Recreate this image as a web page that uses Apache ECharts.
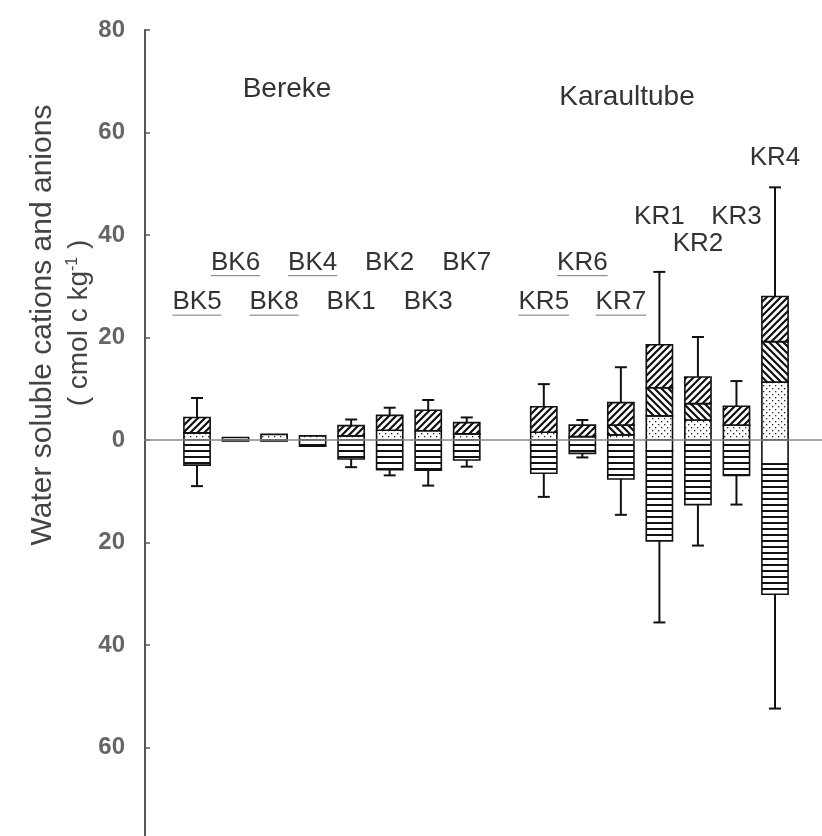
<!DOCTYPE html>
<html>
<head>
<meta charset="utf-8">
<script src="https://cdn.jsdelivr.net/npm/echarts@6/dist/echarts.min.js"></script>
<style>
  html, body { margin: 0; padding: 0; background: #fff; }
  #chart { width: 822px; height: 836px; }
</style>
</head>
<body>
<div id="chart"></div>
<script>
// sample slots along x ('' is the gap between the two sites)
const samples = ['BK5', 'BK6', 'BK8', 'BK4', 'BK1', 'BK2', 'BK3', 'BK7', '',
                 'KR5', 'KR6', 'KR7', 'KR1', 'KR2', 'KR3', 'KR4'];
// cations, stacked upward from 0 (cmol c kg-1)
const dotted    = [1.4, 0.5, 1.1, 0.8, 0.8, 1.9, 1.8, 1.2, null, 1.5, 0.65, 1.0, 4.7, 3.9, 2.9, 11.3];
const backHatch = [0, 0, 0, 0, 0, 0, 0, 0, null, 0, 0, 1.9, 5.5, 3.2, 0, 7.9];
const fwdHatch  = [3.0, 0, 0, 0, 2.0, 2.9, 4.0, 2.2, null, 5.0, 2.25, 4.4, 8.4, 5.2, 3.7, 8.8];
// anions, stacked downward from 0
const blank     = [0, 0, 0, 0, 0, 0, 0, 0, null, 0, 0, 0, 2.1, 0, 0, 4.7];
const striped   = [4.9, 0.2, 0.2, 1.2, 3.7, 5.8, 5.9, 3.9, null, 6.5, 2.6, 7.6, 17.6, 12.6, 6.9, 25.4];
// whisker ends
const whiskerTop    = [8.2, 0.5, 1.1, 0.8, 4.0, 6.3, 7.8, 4.4, null, 10.9, 3.9, 14.2, 32.8, 20.1, 11.5, 49.3];
const whiskerBottom = [-9.0, -0.2, -0.2, -1.2, -5.3, -6.9, -8.9, -5.2, null, -11.1, -3.4, -14.6, -35.6, -20.6, -12.6, -52.4];
// sample name labels: height on the y scale, underlined or not
const labelY     = [26.9, 34.6, 26.9, 34.6, 26.9, 34.6, 26.9, 34.6, null, 26.9, 34.6, 26.9, 43.5, 38.2, 43.5, 55.0];
const underlined = [1, 1, 1, 1, 0, 0, 0, 0, null, 1, 1, 1, 0, 0, 0, 0];
const sites = ['Bereke', 'Karaultube'];

const FONT = '"Liberation Sans", Arial, sans-serif';

function makePattern(w, h, draw) {
  const c = document.createElement('canvas');
  c.width = w; c.height = h;
  const ctx = c.getContext('2d');
  ctx.fillStyle = '#fff';
  ctx.fillRect(0, 0, w, h);
  ctx.strokeStyle = '#111';
  ctx.fillStyle = '#222';
  draw(ctx, w, h);
  return { image: c, repeat: 'repeat' };
}
const fwdPat = makePattern(7, 7, (ctx, w, h) => {
  ctx.lineWidth = 2.2;
  ctx.beginPath();
  ctx.moveTo(-1, h + 1); ctx.lineTo(w + 1, -1);
  ctx.moveTo(-2, 2); ctx.lineTo(2, -2);
  ctx.moveTo(w - 2, h + 2); ctx.lineTo(w + 2, h - 2);
  ctx.stroke();
});
const backPat = makePattern(7, 7, (ctx, w, h) => {
  ctx.lineWidth = 2.2;
  ctx.beginPath();
  ctx.moveTo(-1, -1); ctx.lineTo(w + 1, h + 1);
  ctx.moveTo(-2, h - 2); ctx.lineTo(2, h + 2);
  ctx.moveTo(w - 2, -2); ctx.lineTo(w + 2, 2);
  ctx.stroke();
});
const dotPat = makePattern(6, 6, ctx => {
  ctx.fillRect(1, 1, 1.3, 1.3);
  ctx.fillRect(4, 4, 1.3, 1.3);
});
const stripePat = makePattern(6, 6, (ctx, w) => {
  ctx.fillStyle = '#111';
  ctx.fillRect(0, 0, w, 2);
});

const boxData = [];
const labelData = [];
samples.forEach((name, i) => {
  if (!name) return;
  boxData.push([i, dotted[i], backHatch[i], fwdHatch[i], blank[i], striped[i], whiskerTop[i], whiskerBottom[i]]);
  labelData.push([i, labelY[i], underlined[i]]);
});
const labelNames = samples.filter(n => n);

function renderBox(params, api) {
  const i = api.value(0);
  const d = api.value(1), b = api.value(2), f = api.value(3);
  const w = api.value(4), s = api.value(5);
  const hi = api.value(6), lo = api.value(7);
  const cx = api.coord([i, 0])[0];
  const half = api.size([0.68, 0])[0] / 2;
  const yOf = v => api.coord([i, v])[1];
  const segs = [
    [0, d, dotPat], [d, d + b, backPat], [d + b, d + b + f, fwdPat],
    [0, -w, '#fff'], [-w, -w - s, stripePat]
  ];
  const children = [];
  const lineStyle = { stroke: '#111', lineWidth: 2 };
  const top = d + b + f, bottom = -(w + s);
  if (hi > top) {
    children.push({ type: 'line', shape: { x1: cx, y1: yOf(top), x2: cx, y2: yOf(hi) }, style: lineStyle });
    children.push({ type: 'line', shape: { x1: cx - 6, y1: yOf(hi), x2: cx + 6, y2: yOf(hi) }, style: lineStyle });
  }
  if (lo < bottom) {
    children.push({ type: 'line', shape: { x1: cx, y1: yOf(bottom), x2: cx, y2: yOf(lo) }, style: lineStyle });
    children.push({ type: 'line', shape: { x1: cx - 6, y1: yOf(lo), x2: cx + 6, y2: yOf(lo) }, style: lineStyle });
  }
  segs.forEach(([a, z, fill]) => {
    if (a === z) return;
    const y1 = yOf(Math.max(a, z)), y2 = yOf(Math.min(a, z));
    children.push({
      type: 'rect',
      shape: { x: cx - half, y: y1, width: half * 2, height: y2 - y1 },
      style: { fill: fill, stroke: '#111', lineWidth: 1.6 }
    });
  });
  return { type: 'group', children: children };
}

const measure = document.createElement('canvas').getContext('2d');
function renderLabel(params, api) {
  const p = api.coord([api.value(0), api.value(1)]);
  const text = labelNames[params.dataIndex];
  const font = '26px ' + FONT;
  const children = [{
    type: 'text', x: p[0], y: p[1],
    style: { text: text, font: font, fill: '#333', align: 'center', verticalAlign: 'middle',
             textAlign: 'center', textVerticalAlign: 'middle' }
  }];
  if (api.value(2)) {
    measure.font = font;
    const tw = measure.measureText(text).width;
    children.push({
      type: 'line',
      shape: { x1: p[0] - tw / 2, y1: p[1] + 13, x2: p[0] + tw / 2, y2: p[1] + 13 },
      style: { stroke: '#777', lineWidth: 1 }
    });
  }
  return { type: 'group', children: children };
}

const chart = echarts.init(document.getElementById('chart'));
chart.setOption({
  backgroundColor: '#fff',
  animation: false,
  grid: { left: 145, right: 0, top: 30, bottom: -14, outerBoundsMode: 'none' },
  xAxis: {
    type: 'value', min: -1.35, max: 16.22, z: 10,
    axisLine: { onZero: true, lineStyle: { color: '#8a8a8a', width: 1.5 } },
    axisTick: { show: false }, axisLabel: { show: false }, splitLine: { show: false }
  },
  yAxis: {
    type: 'value', min: -80, max: 80, interval: 20,
    axisLine: { show: true, onZero: false, lineStyle: { color: '#555', width: 2 } },
    axisTick: { show: true, inside: true, length: 5, lineStyle: { color: '#555', width: 1.5 } },
    axisLabel: {
      margin: 20, fontSize: 24, fontWeight: 'bold', color: '#666', fontFamily: FONT,
      formatter: v => (v <= -80 ? '' : String(Math.abs(v)))
    },
    splitLine: { show: false }
  },
  graphic: [
    { type: 'text', x: 43, y: 325, rotation: Math.PI / 2,
      style: { text: 'Water soluble cations and anions', font: '30px ' + FONT, fill: '#444',
               align: 'center', verticalAlign: 'middle', textAlign: 'center', textVerticalAlign: 'middle' } },
    { type: 'text', x: 79, y: 323, rotation: Math.PI / 2,
      style: { text: '{n|( cmol c kg}{s|-1}{n| )}', fill: '#444',
               align: 'center', verticalAlign: 'middle', textAlign: 'center', textVerticalAlign: 'middle',
               rich: { n: { font: '28px ' + FONT, fill: '#444' },
                       s: { font: '16px ' + FONT, fill: '#444', verticalAlign: 'top' } } } },
    { type: 'text', x: 287, y: 89,
      style: { text: sites[0], font: '28px ' + FONT, fill: '#333',
               align: 'center', verticalAlign: 'middle', textAlign: 'center', textVerticalAlign: 'middle' } },
    { type: 'text', x: 627, y: 97,
      style: { text: sites[1], font: '28px ' + FONT, fill: '#333',
               align: 'center', verticalAlign: 'middle', textAlign: 'center', textVerticalAlign: 'middle' } }
  ],
  series: [
    { type: 'custom', renderItem: renderBox, data: boxData, encode: { x: 0, y: [6, 7] }, z: 3 },
    { type: 'custom', renderItem: renderLabel, data: labelData, encode: { x: 0, y: 1 }, z: 4 }
  ]
});
</script>
</body>
</html>
